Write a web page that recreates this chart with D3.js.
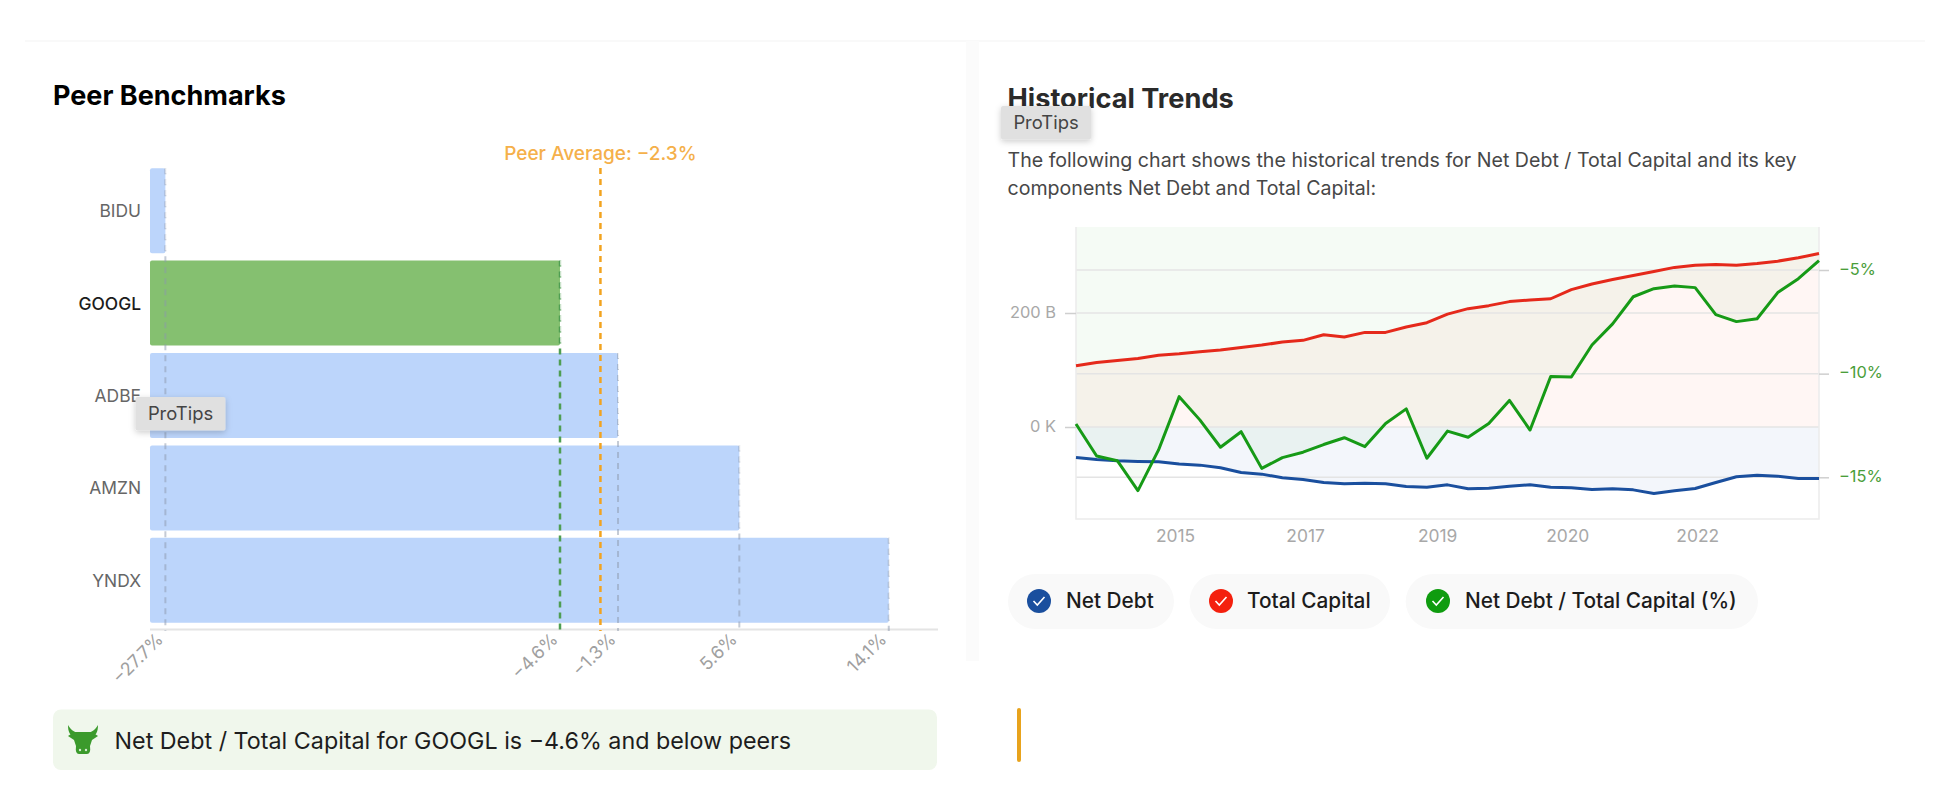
<!DOCTYPE html>
<html>
<head>
<meta charset="utf-8">
<style>
  html, body { margin: 0; background: #fff; }
  svg { display: block; font-family: Inter, "Noto Sans", sans-serif; }
  .domain { display: none; }
</style>
</head>
<body>
<svg width="1948" height="808"></svg>
<script src="https://d3js.org/d3.v7.min.js"></script>
<script>

// Peer benchmark bars
var peers = ["BIDU", "GOOGL", "ADBE", "AMZN", "YNDX"];
var peerValues = [-27.7, -4.6, -1.3, 5.6, 14.1];
var peerLabels = ["\u221227.7%", "\u22124.6%", "\u22121.3%", "5.6%", "14.1%"];
var peerAverage = -2.3;
var focusPeer = "GOOGL";

// Historical trends, one value per quarter
var netDebt = [-53.4, -56.9, -59.2, -60.4, -61, -65.1, -66.9, -71.6, -79.8, -82.7, -89.1, -92.1, -97.4,
  -99.7, -98.5, -99.7, -104.4, -105.6, -101.5, -108.5, -107.3, -103.8, -101.5, -105.6, -106.7, -109.7,
  -108.5, -110.3, -116.7, -112, -107.9, -97.4, -87.4, -84.5, -86.2, -90.3, -90.3];
var totalCapital = [107.3, 113, 116.7, 120.2, 126, 128.4, 132, 134.9, 139.6, 143.7, 149, 152, 161.9,
  157.8, 166, 166, 175.4, 183, 198, 207.6, 212.9, 220, 222.9, 225, 241, 251,
  258.7, 265.7, 272.7, 280, 283.9, 285, 283.9, 286.8, 290.9, 296.8, 304.4];
var debtToCapital = [-12.43, -13.97, -14.2, -15.64, -13.68, -11.11, -12.23, -13.55, -12.8, -14.57, -14.05, -13.79, -13.42,
  -13.09, -13.52, -12.4, -11.7, -14.08, -12.77, -13.07, -12.4, -11.29, -12.72, -10.14, -10.16, -8.62,
  -7.6, -6.29, -5.9, -5.77, -5.85, -7.15, -7.49, -7.35, -6.09, -5.42, -4.55];
var quarters = d3.range(netDebt.length);

var yearLabels = ["2015", "2017", "2019", "2020", "2022"];
var yearPositions = [4.8, 11.1, 17.5, 23.8, 30.1];
var leftTicks = [0, 200];
var leftTickLabels = ["0 K", "200 B"];
var rightTicks = [-5, -10, -15];
var legendNames = ["Net Debt", "Total Capital", "Net Debt / Total Capital (%)"];

var BLUE = "#1a4f9e", RED = "#e5291b", GREEN = "#169a16";

var svg = d3.select("svg");

// faint card outlines behind everything
var cards = svg.append("g").attr("fill", "none").attr("stroke", "#f9f9f9").attr("stroke-width", 2);
cards.append("path").attr("d", "M25,41H1925");
cards.append("rect").attr("x", 966).attr("y", 41).attr("width", 13).attr("height", 620).attr("fill", "#fbfbfb").attr("stroke", "none");

function label(parent, x, y, text, size, weight, color, anchor) {
  return parent.append("text").attr("x", x).attr("y", y).attr("dy", "0.35em")
    .attr("font-size", size).attr("font-weight", weight).attr("fill", color)
    .attr("text-anchor", anchor || "start").text(text);
}

// ---------- Peer Benchmarks ----------
var left = svg.append("g");
label(left, 53, 96, "Peer Benchmarks", 27, 650, "#000");

// the axis is not quite even below GOOGL in the picture, hence the middle stop
var x = d3.scaleLinear().domain([-28.6, -4.6, 16.9]).range([150, 560, 938]);
var y = d3.scaleBand().domain(peers).range([164.5, 626.5]).paddingInner(0.08).paddingOuter(0.04);

left.selectAll("rect.bar")
  .data(peers)
  .join("rect")
    .attr("class", "bar")
    .attr("x", x.range()[0])
    .attr("y", function(d) { return y(d); })
    .attr("width", function(d, i) { return x(peerValues[i]) - x.range()[0]; })
    .attr("height", y.bandwidth())
    .attr("rx", 2)
    .attr("fill", function(d) { return d === focusPeer ? "#85c070" : "#bcd5fb"; });

left.append("line").attr("x1", 150).attr("x2", 938).attr("y1", 629.5).attr("y2", 629.5)
  .attr("stroke", "#e4e4e4").attr("stroke-width", 2);

// dashed value guides run from the top of their own bar down to the axis
peers.forEach(function(p, i) {
  var px = x(peerValues[i]);
  var focus = p === focusPeer;
  left.append("line").attr("x1", px).attr("x2", px).attr("y1", y(p)).attr("y2", 631)
    .attr("stroke", focus ? "#4f9e52" : "#8b97ab").attr("stroke-width", focus ? 2.5 : 2)
    .attr("stroke-dasharray", "6,5").attr("stroke-opacity", focus ? 1 : 0.5);
  left.append("line").attr("x1", px + 1).attr("x2", px + 1).attr("y1", y(p)).attr("y2", y(p) + y.bandwidth())
    .attr("stroke", "#fff").attr("stroke-width", 2).attr("stroke-dasharray", "5,6").attr("stroke-opacity", 0.7);
});

left.append("line").attr("x1", x(peerAverage)).attr("x2", x(peerAverage)).attr("y1", 168).attr("y2", 631)
  .attr("stroke", "#f2a31f").attr("stroke-width", 2.5).attr("stroke-dasharray", "6,5");
label(left, x(peerAverage), 153.5, "Peer Average: \u22122.3%", 19, 500, "#f5b04a", "middle");

// category axis
var yAxis = left.append("g").attr("transform", "translate(141,1)")
  .call(d3.axisLeft(y).tickSize(0).tickPadding(0));
yAxis.selectAll("text")
  .attr("font-family", "Inter, sans-serif").attr("font-size", 17.4)
  .attr("font-weight", function(d) { return d === focusPeer ? 500 : 400; })
  .attr("fill", function(d) { return d === focusPeer ? "#1c1c1c" : "#666"; });

// value axis with slanted labels
var xAxis = left.append("g").attr("transform", "translate(0,630)")
  .call(d3.axisBottom(x).tickValues(peerValues).tickSize(0)
    .tickFormat(function(d, i) { return peerLabels[i]; }));
xAxis.selectAll("text")
  .attr("font-family", "Inter, sans-serif").attr("font-size", 18).attr("fill", "#a0a0a0")
  .attr("text-anchor", "end").attr("x", -6).attr("y", 6).attr("dy", "0.35em")
  .attr("transform", "rotate(-45,-6,6)");

// insight box
left.append("rect").attr("x", 53).attr("y", 709.5).attr("width", 884).attr("height", 60.5)
  .attr("rx", 8).attr("fill", "#f0f7ec");
var bull = left.append("g").attr("transform", "translate(83,740)").attr("fill", "#3b9a2c");
bull.append("path").attr("d", "M-15,-15C-15,-8 -13,-4 -8,-3L-5,-7C-9,-8 -12,-10 -15,-15Z");
bull.append("path").attr("d", "M15,-15C15,-8 13,-4 8,-3L5,-7C9,-8 12,-10 15,-15Z");
bull.append("path").attr("d", "M-9,-8L9,-8L15,-4L9,0L7,6Q8,14 4,14L-4,14Q-8,14 -7,6L-9,0L-15,-4Z");
bull.append("circle").attr("cx", -3).attr("cy", 10).attr("r", 1.2).attr("fill", "#d6ecd0");
bull.append("circle").attr("cx", 3).attr("cy", 10).attr("r", 1.2).attr("fill", "#d6ecd0");
label(left, 114.5, 740.5, "Net Debt / Total Capital for GOOGL is \u22124.6% and below peers", 23.3, 400, "#1d1d1d");

// ---------- Historical Trends ----------
var right = svg.append("g");
label(right, 1007.5, 98.5, "Historical Trends", 27.2, 650, "#2a2a2a");
label(right, 1007.5, 160, "The following chart shows the historical trends for Net Debt / Total Capital and its key", 19.6, 400, "#474747");
label(right, 1007.5, 188, "components Net Debt and Total Capital:", 19.6, 400, "#474747");

var plot = {left: 1076, right: 1819, top: 227, bottom: 519};
var tx = d3.scaleLinear().domain([0, quarters.length - 1]).range([plot.left, plot.right]);
var money = d3.scaleLinear().domain([0, 200]).range([427, 313]);
var pct = d3.scaleLinear().domain([-5, -15]).range([270, 477.3]);

// tinted areas: green above the ratio line, red and blue between the zero line and theirs
right.append("path").datum(debtToCapital)
  .attr("fill", "#14a014").attr("fill-opacity", 0.045)
  .attr("d", d3.area().x(function(d, i) { return tx(i); }).y0(plot.top).y1(function(d) { return pct(d); }));
right.append("path").datum(totalCapital)
  .attr("fill", "#ff2a00").attr("fill-opacity", 0.045)
  .attr("d", d3.area().x(function(d, i) { return tx(i); }).y0(money(0)).y1(function(d) { return money(d); }));
right.append("path").datum(netDebt)
  .attr("fill", "#1450aa").attr("fill-opacity", 0.05)
  .attr("d", d3.area().x(function(d, i) { return tx(i); }).y0(money(0)).y1(function(d) { return money(d); }));

// gridlines
var grid = right.append("g").attr("stroke", "#e4e4e4").attr("stroke-width", 1.5);
leftTicks.forEach(function(t) {
  grid.append("line").attr("x1", plot.left).attr("x2", plot.right).attr("y1", money(t)).attr("y2", money(t));
});
rightTicks.forEach(function(t) {
  grid.append("line").attr("x1", plot.left).attr("x2", plot.right).attr("y1", pct(t)).attr("y2", pct(t));
});

// plot frame
var frame = right.append("g").attr("fill", "none").attr("stroke", "#ececec");
frame.append("path").attr("d", "M" + plot.left + "," + plot.top + "V" + plot.bottom + "H" + plot.right + "V" + plot.top)
  .attr("stroke-width", 1.5);

var lineOf = function(scale) {
  return d3.line().x(function(d, i) { return tx(i); }).y(function(d) { return scale(d); });
};
right.append("path").datum(netDebt).attr("fill", "none").attr("stroke", BLUE).attr("stroke-width", 3)
  .attr("stroke-linejoin", "round").attr("d", lineOf(money));
right.append("path").datum(totalCapital).attr("fill", "none").attr("stroke", RED).attr("stroke-width", 3)
  .attr("stroke-linejoin", "round").attr("d", lineOf(money));
right.append("path").datum(debtToCapital).attr("fill", "none").attr("stroke", GREEN).attr("stroke-width", 3)
  .attr("stroke-linejoin", "round").attr("d", lineOf(pct));

// axes
var axisLeft = right.append("g").attr("transform", "translate(" + plot.left + ",0)")
  .call(d3.axisLeft(money).tickValues(leftTicks).tickSize(11).tickPadding(9)
    .tickFormat(function(d, i) { return leftTickLabels[i]; }));
axisLeft.selectAll("line").attr("stroke", "#cfcfcf").attr("stroke-width", 1.5);
axisLeft.selectAll("text").attr("font-family", "Inter, sans-serif").attr("font-size", 16.4).attr("fill", "#a8a8a8").attr("y", -1);

var axisRight = right.append("g").attr("transform", "translate(" + plot.right + ",0)")
  .call(d3.axisRight(pct).tickValues(rightTicks).tickSize(10).tickPadding(10)
    .tickFormat(function(d) { return "\u2212" + Math.abs(d) + "%"; }));
axisRight.selectAll("line").attr("stroke", "#cfcfcf").attr("stroke-width", 1.5);
axisRight.selectAll("text").attr("font-family", "Inter, sans-serif").attr("font-size", 16.4).attr("fill", "#4a9e3a").attr("y", -1);

var axisBottom = right.append("g").attr("transform", "translate(0," + plot.bottom + ")")
  .call(d3.axisBottom(tx).tickValues(yearPositions).tickSize(0).tickPadding(11)
    .tickFormat(function(d, i) { return yearLabels[i]; }));
axisBottom.selectAll("text").attr("font-family", "Inter, sans-serif").attr("font-size", 17.4).attr("fill", "#a8a8a8");

// legend pills
var pills = [
  {x: 1008, w: 166, c: BLUE, cx: 1039, tx: 1066},
  {x: 1189.5, w: 200.5, c: "#f4200e", cx: 1221, tx: 1247},
  {x: 1405.7, w: 352.3, c: "#0f9c0f", cx: 1438, tx: 1465}
];
legendNames.forEach(function(name, i) {
  var p = pills[i];
  var g = right.append("g");
  g.append("rect").attr("x", p.x).attr("y", 574).attr("width", p.w).attr("height", 55).attr("rx", 27.5).attr("fill", "#f9f9f9");
  g.append("circle").attr("cx", p.cx).attr("cy", 601).attr("r", 12).attr("fill", p.c);
  g.append("path").attr("d", "M" + (p.cx - 5.5) + ",601l3.8,4l7.2,-8").attr("fill", "none")
    .attr("stroke", "#fff").attr("stroke-width", 1.6);
  label(g, p.tx, 601, name, 20.8, 500, "#1c1c1c");
});

// orange marker under the legend
right.append("rect").attr("x", 1017).attr("y", 708).attr("width", 4).attr("height", 54).attr("rx", 2).attr("fill", "#e8a31d");

// ProTips overlays sit on top of the charts
var defs = svg.append("defs");
var shadow = defs.append("filter").attr("id", "tipShadow").attr("x", "-20%").attr("y", "-30%").attr("width", "140%").attr("height", "170%");
shadow.append("feDropShadow").attr("dx", 0).attr("dy", 2).attr("stdDeviation", 3).attr("flood-color", "#000").attr("flood-opacity", 0.2);
[[135.5, 397], [1001, 106]].forEach(function(t) {
  var g = svg.append("g").attr("transform", "translate(" + t[0] + "," + t[1] + ")");
  g.append("rect").attr("width", 90).attr("height", 33.5).attr("rx", 2).attr("fill", "#e0e0e0").attr("filter", "url(#tipShadow)");
  label(g, 45, 17, "ProTips", 18.4, 400, "#444", "middle");
});

</script>
</body>
</html>
